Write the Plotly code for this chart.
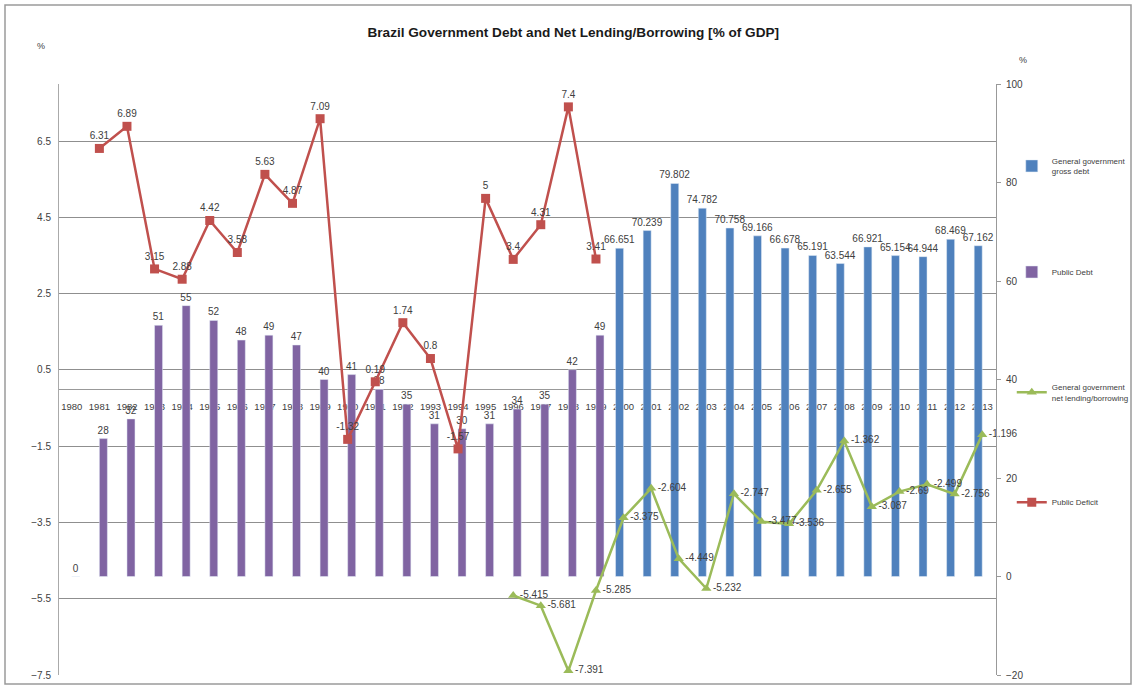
import plotly.graph_objects as go

# ---- data -------------------------------------------------------------
years = [str(y) for y in range(1980, 2014)]

public_debt = [0, 28, 32, 51, 55, 52, 48, 49, 47, 40, 41, 38, 35, 31, 30, 31, 34, 35, 42, 49] + [None] * 14
gross_debt = [None] * 20 + [66.651, 70.239, 79.802, 74.782, 70.758, 69.166, 66.678,
                            65.191, 63.544, 66.921, 65.154, 64.944, 68.469, 67.162]
public_deficit = [None, 6.31, 6.89, 3.15, 2.88, 4.42, 3.58, 5.63, 4.87, 7.09, -1.32, 0.19,
                  1.74, 0.8, -1.57, 5, 3.4, 4.31, 7.4, 3.41] + [None] * 14
net_lending = [None] * 16 + [-5.415, -5.681, -7.391, -5.285, -3.375, -2.604, -4.449, -5.232,
                             -2.747, -3.477, -3.536, -2.655, -1.362, -3.087, -2.69, -2.499,
                             -2.756, -1.196]

left_range = [-7.5, 8.0]
right_range = [-20, 100]

BLUE = "#4F81BD"
PURPLE = "#8064A2"
GREEN = "#9BBB59"
RED = "#C0504D"
TXT = "#404040"
FONT = "Liberation Sans, Arial, sans-serif"
LBL = dict(size=10, color=TXT, family=FONT)


def labels(vals):
    return ["" if v is None else f"{v:g}" for v in vals]


fig = go.Figure()

# bars on the right-hand axis (primary y)
fig.add_trace(go.Bar(
    x=years, y=gross_debt, name="General government<br>gross debt",
    marker_color=BLUE, text=labels(gross_debt), textposition="outside",
    constraintext="none", textfont=LBL, cliponaxis=False,
    yaxis="y", legend="legend",
))
fig.add_trace(go.Bar(
    x=years, y=public_debt, name="Public Debt",
    marker_color=PURPLE, text=labels(public_debt), textposition="outside",
    constraintext="none", textfont=LBL, cliponaxis=False,
    yaxis="y", legend="legend2",
))

# lines on the left-hand axis (overlay y2)
fig.add_trace(go.Scatter(
    x=years, y=net_lending, name="General government<br>net lending/borrowing",
    mode="lines+markers+text", line=dict(color=GREEN, width=2.5),
    marker=dict(symbol="triangle-up", size=9, color=GREEN),
    text=labels(net_lending), textposition="middle right",
    textfont=LBL, cliponaxis=False,
    yaxis="y2", legend="legend3",
))
fig.add_trace(go.Scatter(
    x=years, y=public_deficit, name="Public Deficit",
    mode="lines+markers+text", line=dict(color=RED, width=2.5),
    marker=dict(symbol="square", size=9, color=RED),
    text=labels(public_deficit), textposition="top center",
    textfont=LBL, cliponaxis=False,
    yaxis="y2", legend="legend4",
))

zero_pos = (0 - left_range[0]) / (left_range[1] - left_range[0])


def legend_box(ycenter):
    return dict(xref="container", yref="container", x=0.893, y=ycenter,
                xanchor="left", yanchor="middle", bgcolor="rgba(0,0,0,0)",
                itemwidth=30, tracegroupgap=0,
                font=dict(size=8, color=TXT, family=FONT))


fig.update_layout(
    width=1133, height=686,
    margin=dict(l=58, r=137, t=84, b=11, autoexpand=False),
    paper_bgcolor="white", plot_bgcolor="white",
    font=dict(family=FONT, color=TXT, size=10),
    showlegend=True,
    barmode="group", bargap=0.42, bargroupgap=0,
    title=dict(text="<b>Brazil Government Debt and Net Lending/Borrowing [% of GDP]</b>",
               x=0.506, xref="container", xanchor="center", y=0.953, yanchor="middle",
               font=dict(size=13.6, color="#1a1a1a", family=FONT)),
    xaxis=dict(type="category", range=[-0.5, len(years) - 0.5],
               anchor="free", position=zero_pos, showline=True, linecolor="#999999",
               linewidth=1, ticks="", showgrid=False, layer="below traces",
               tickfont=dict(size=9.5, color=TXT, family=FONT), ticklabelstandoff=9),
    yaxis=dict(range=right_range, tick0=-20, dtick=20, side="right", showgrid=False,
               zeroline=False, showline=True, linecolor="#999999", ticks="outside",
               ticklen=4, tickcolor="#999999", ticklabelstandoff=3,
               tickfont=dict(size=10, color=TXT)),
    yaxis2=dict(range=left_range, tick0=-7.5, dtick=2, side="left", overlaying="y",
                anchor="free", position=0,
                showgrid=True, gridcolor="#8f8f8f", gridwidth=1, zeroline=False,
                showline=True, linecolor="#aaaaaa", ticks="outside", ticklen=5,
                tickcolor="rgba(0,0,0,0)", tickfont=dict(size=10, color=TXT)),
    legend=legend_box(0.758),
    legend2=legend_box(0.6035),
    legend3=legend_box(0.428),
    legend4=legend_box(0.268),
    annotations=[
        dict(text="%", x=-0.025, y=1.076, xref="paper", yref="paper",
             showarrow=False, font=dict(size=9, color=TXT)),
        dict(text="%", x=1.035, y=1.052, xref="paper", yref="paper",
             showarrow=False, font=dict(size=9, color=TXT)),
    ],
    shapes=[
        dict(type="rect", xref="paper", yref="paper",
             x0=(5 - 58) / 938, x1=(1131 - 58) / 938,
             y0=(675 - 684) / 591, y1=(675 - 5) / 591,
             line=dict(color="#9a9a9a", width=1.5), fillcolor="rgba(0,0,0,0)", layer="below"),
    ],
)

fig.write_html("out.html")
